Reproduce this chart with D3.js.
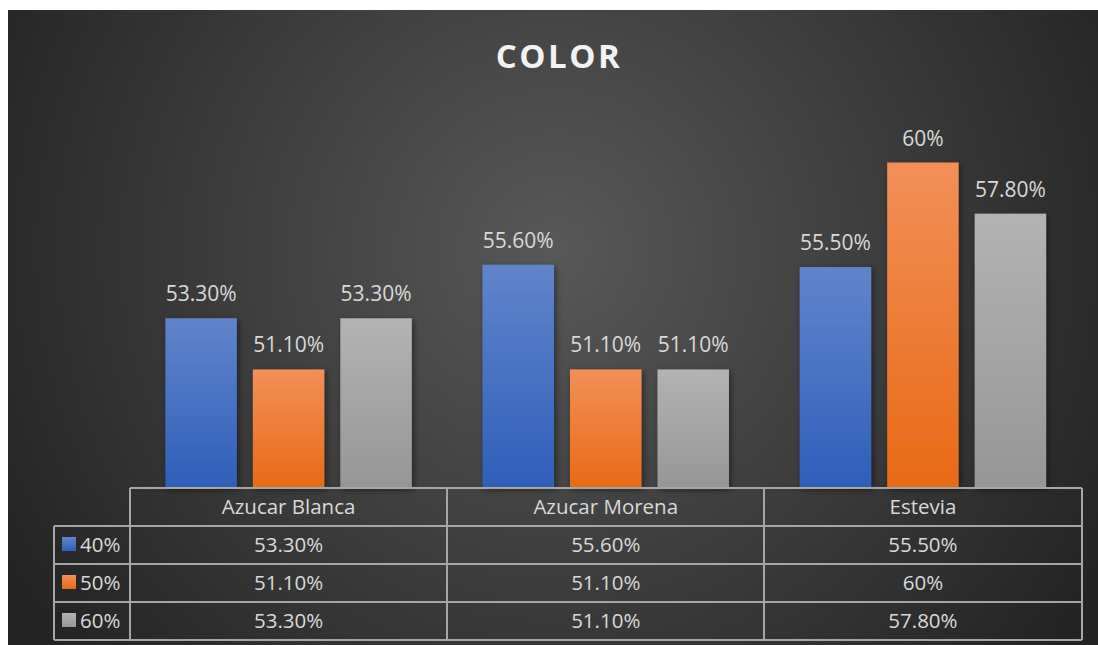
<!DOCTYPE html>
<html>
<head>
<meta charset="utf-8">
<script src="https://cdn.jsdelivr.net/npm/d3@7/dist/d3.min.js"></script>
<style>
  html, body { margin: 0; padding: 0; background: #ffffff; }
  svg { display: block; }
  text { font-family: "Open Sans", "DejaVu Sans", sans-serif; }
</style>
</head>
<body>
<svg id="chart" width="1098" height="645"></svg>
<script>
// Chart data
const title = "COLOR";
const categories = ["Azucar Blanca", "Azucar Morena", "Estevia"];
const seriesNames = ["40%", "50%", "60%"];
const values40 = [53.3, 55.6, 55.5];
const values50 = [51.1, 51.1, 60];
const values60 = [53.3, 51.1, 57.8];
const yDomain = [46, 62];

const seriesValues = [values40, values50, values60];
const colorsTop = ["#6184cc", "#f28f58", "#b3b3b3"];
const colorsBottom = ["#2e5fb9", "#e86a16", "#969696"];

const fmt = v => Number.isInteger(v) ? v + "%" : v.toFixed(2) + "%";

const svg = d3.select("#chart");
const W = 1098, H = 645;
const frame = { x: 8, y: 10, w: W - 8, h: H - 10 };

const defs = svg.append("defs");
const bg = defs.append("radialGradient").attr("id", "bg")
  .attr("gradientUnits", "userSpaceOnUse")
  .attr("cx", 555).attr("cy", 250).attr("r", 640);
bg.append("stop").attr("offset", "0").attr("stop-color", "#585858");
bg.append("stop").attr("offset", "1").attr("stop-color", "#232323");

seriesNames.forEach((s, i) => {
  const g = defs.append("linearGradient").attr("id", "bar" + i)
    .attr("x1", 0).attr("y1", 0).attr("x2", 0).attr("y2", 1);
  g.append("stop").attr("offset", "0").attr("stop-color", colorsTop[i]);
  g.append("stop").attr("offset", "1").attr("stop-color", colorsBottom[i]);
});

const shadow = defs.append("filter").attr("id", "shadow")
  .attr("x", "-20%").attr("y", "-20%").attr("width", "150%").attr("height", "150%");
shadow.append("feDropShadow").attr("dx", 2).attr("dy", 2)
  .attr("stdDeviation", 3).attr("flood-color", "#000").attr("flood-opacity", 0.45);

svg.append("rect")
  .attr("x", frame.x).attr("y", frame.y)
  .attr("width", frame.w).attr("height", frame.h)
  .attr("fill", "url(#bg)");

// Title
svg.append("text")
  .attr("x", 559).attr("y", 68)
  .attr("text-anchor", "middle")
  .attr("font-size", 33).attr("font-weight", 700)
  .attr("letter-spacing", 2.5)
  .attr("fill", "#f2f2f2")
  .text(title);

// Plot geometry
const plotLeft = 130, plotRight = 1081.5, plotTop = 116, plotBottom = 488;

const x0 = d3.scaleBand().domain(categories).range([plotLeft, plotRight]).padding(0);
const x1 = d3.scaleBand().domain(seriesNames)
  .range([x0.bandwidth() * 0.1115, x0.bandwidth() * (1 - 0.1115)])
  .paddingInner(0.183).paddingOuter(0);
const y = d3.scaleLinear().domain(yDomain).range([plotBottom, plotTop]);

// Bars
const groups = svg.append("g").selectAll("g")
  .data(categories)
  .join("g")
  .attr("transform", d => `translate(${x0(d)},0)`);

groups.selectAll("rect")
  .data((c, ci) => seriesNames.map((s, si) => ({ s, si, v: seriesValues[si][ci] })))
  .join("rect")
  .attr("x", d => x1(d.s))
  .attr("y", d => y(d.v))
  .attr("width", x1.bandwidth())
  .attr("height", d => plotBottom - y(d.v))
  .attr("fill", d => `url(#bar${d.si})`)
  .attr("filter", "url(#shadow)");

groups.selectAll("text.lbl")
  .data((c, ci) => seriesNames.map((s, si) => ({ s, si, v: seriesValues[si][ci] })))
  .join("text")
  .attr("class", "lbl")
  .attr("x", d => x1(d.s) + x1.bandwidth() / 2)
  .attr("y", d => y(d.v) - 17)
  .attr("text-anchor", "middle")
  .attr("font-size", 21)
  .attr("fill", "#d9d9d9")
  .text(d => fmt(d.v));

// Data table below the plot
const rowTop = [488, 525.5, 563.5, 601.5, 639.5];
const legendLeft = 53.5;
const table = svg.append("g");
const lineStyle = sel => sel.attr("stroke", "#a6a6a6").attr("stroke-width", 2)
  .attr("shape-rendering", "crispEdges");

// horizontal lines
rowTop.forEach((ry, i) => {
  table.append("line")
    .attr("x1", i === 0 ? plotLeft : legendLeft).attr("x2", plotRight)
    .attr("y1", ry).attr("y2", ry).call(lineStyle);
});
// vertical lines
const vx = [plotLeft, ...categories.slice(1).map(c => x0(c)), plotRight];
vx.forEach(xv => {
  table.append("line").attr("x1", xv).attr("x2", xv)
    .attr("y1", rowTop[0]).attr("y2", rowTop[4]).call(lineStyle);
});
table.append("line").attr("x1", legendLeft).attr("x2", legendLeft)
  .attr("y1", rowTop[1]).attr("y2", rowTop[4]).call(lineStyle);

// header row: category names
table.selectAll("text.cat")
  .data(categories)
  .join("text")
  .attr("class", "cat")
  .attr("x", d => x0(d) + x0.bandwidth() / 2)
  .attr("y", rowTop[0] + 26)
  .attr("text-anchor", "middle")
  .attr("font-size", 20.5)
  .attr("fill", "#d9d9d9")
  .text(d => d);

// series rows
seriesNames.forEach((s, si) => {
  const top = rowTop[si + 1];
  table.append("rect")
    .attr("x", 62).attr("y", top + 11.5)
    .attr("width", 14).attr("height", 14)
    .attr("fill", `url(#bar${si})`);
  table.append("text")
    .attr("x", 80).attr("y", top + 26)
    .attr("font-size", 20.5).attr("fill", "#d9d9d9")
    .text(s);
  table.selectAll(null)
    .data(categories)
    .join("text")
    .attr("x", d => x0(d) + x0.bandwidth() / 2)
    .attr("y", top + 26)
    .attr("text-anchor", "middle")
    .attr("font-size", 20.5)
    .attr("fill", "#d9d9d9")
    .text((d, ci) => fmt(seriesValues[si][ci]));
});
</script>
</body>
</html>
